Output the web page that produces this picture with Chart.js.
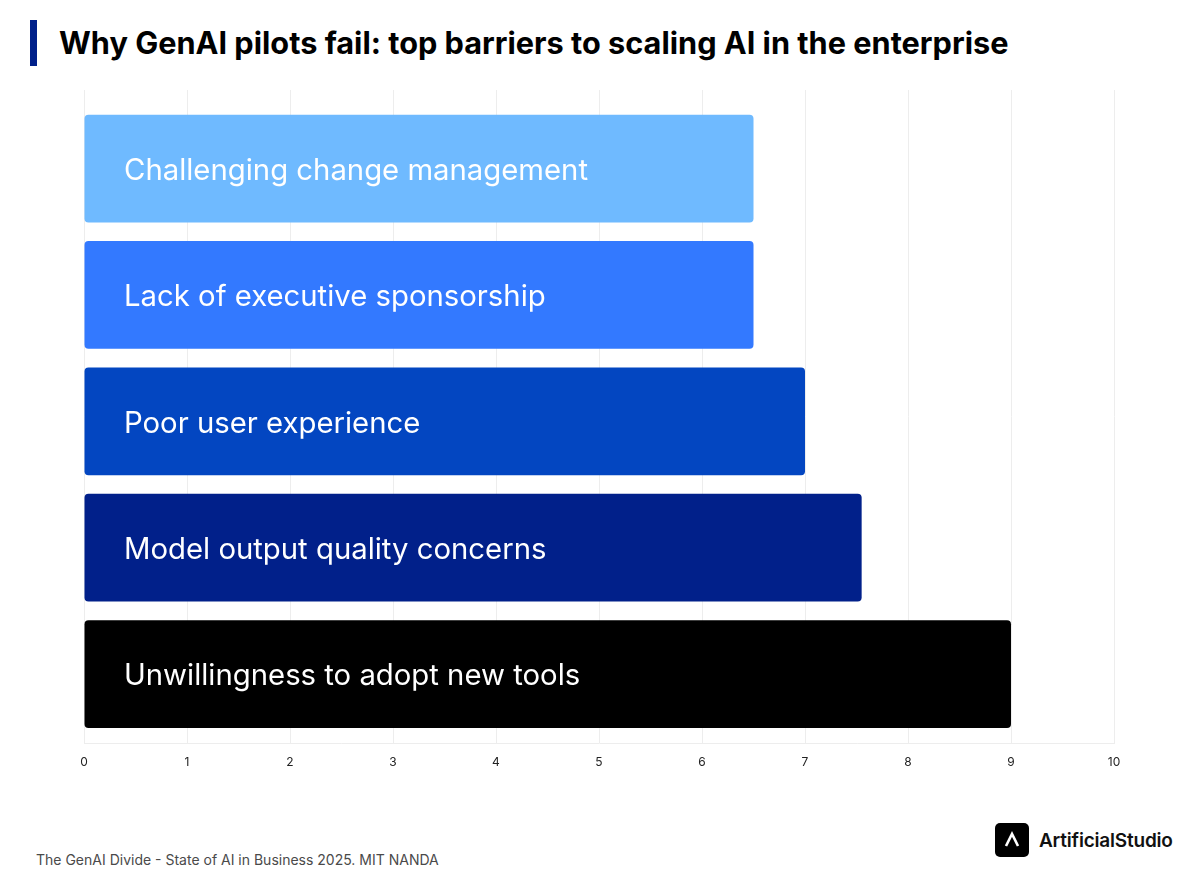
<!DOCTYPE html>
<html>
<head>
<meta charset="utf-8">
<script src="https://cdn.jsdelivr.net/npm/chart.js@4.4.1/dist/chart.umd.min.js"></script>
<style>
  html, body { margin: 0; padding: 0; background: #fff; }
  body { width: 1198px; height: 885px; position: relative; overflow: hidden; font-family: Inter, "Noto Sans", sans-serif; }
  #accent { position: absolute; left: 30px; top: 20px; width: 7px; height: 46px; background: #00208A; }
  #title { position: absolute; left: 59px; top: 27px; font-size: 30.7px; line-height: 31px; font-weight: 700; color: #000; white-space: nowrap; }
  #wrap { position: absolute; left: 0; top: 0; width: 1198px; height: 800px; }
  #source { position: absolute; left: 36px; top: 851px; font-size: 14px; line-height: 18px; color: #4a4a4a; white-space: nowrap; }
  #logo { position: absolute; left: 995px; top: 823px; height: 34px; display: flex; align-items: center; }
  #logo .box { width: 34px; height: 34px; border-radius: 5px; background: #000; display: flex; align-items: center; justify-content: center; }
  #logo .name { margin-left: 10px; font-size: 19px; font-weight: 600; color: #111; letter-spacing: -0.2px; }
</style>
</head>
<body>
<div id="accent"></div>
<div id="title">Why GenAI pilots fail: top barriers to scaling AI in the enterprise</div>
<div id="wrap"><canvas id="c"></canvas></div>
<div id="source">The GenAI Divide - State of AI in Business 2025. MIT NANDA</div>
<div id="logo"><div class="box"><svg width="18" height="18" viewBox="0 0 18 18"><path d="M3 15 L9 3 L15 15" fill="none" stroke="#fff" stroke-width="2.6" stroke-linejoin="miter"/></svg></div><div class="name">ArtificialStudio</div></div>
<script>
const categories = [
  "Challenging change management",
  "Lack of executive sponsorship",
  "Poor user experience",
  "Model output quality concerns",
  "Unwillingness to adopt new tools"
];
const values = [6.5, 6.5, 7, 7.55, 9];
const barColors = ["#6FBAFF", "#3379FF", "#0346C1", "#01208A", "#000000"];
const xTicks = [0, 1, 2, 3, 4, 5, 6, 7, 8, 9, 10];

const insideLabels = {
  id: 'insideLabels',
  afterDatasetsDraw(chart) {
    const ctx = chart.ctx;
    const meta = chart.getDatasetMeta(0);
    const x0 = chart.scales.x.getPixelForValue(0);
    ctx.save();
    ctx.font = '400 29.3px Inter, "Noto Sans", sans-serif';
    ctx.fillStyle = '#ffffff';
    ctx.textBaseline = 'middle';
    ctx.textAlign = 'left';
    meta.data.forEach((bar, i) => {
      ctx.fillText(categories[i], x0 + 40, bar.y + 2.5);
    });
    ctx.restore();
  }
};

new Chart(document.getElementById('c'), {
  type: 'bar',
  data: {
    datasets: [{
      data: values.map((v, i) => ({ x: v, y: i })),
      backgroundColor: barColors,
      borderRadius: 4,
      borderSkipped: false,
      barPercentage: 0.853,
      categoryPercentage: 1
    }]
  },
  options: {
    indexAxis: 'y',
    responsive: true,
    maintainAspectRatio: false,
    animation: false,
    layout: { padding: { left: 84, right: 84, top: 90, bottom: 18 } },
    plugins: { legend: { display: false }, tooltip: { enabled: false }, title: { display: false } },
    scales: {
      x: {
        type: 'linear',
        min: 0,
        max: 10,
        afterBuildTicks: s => { s.ticks = xTicks.map(v => ({ value: v })); },
        grid: { color: '#ededed', lineWidth: 1, drawTicks: false },
        border: { color: '#ededed', width: 1 },
        ticks: { padding: 12, color: '#222', font: { family: 'Inter', size: 12 } }
      },
      y: {
        type: 'linear',
        reverse: true,
        offset: false,
        min: -0.622,
        max: 4.55,
        display: false,
        grid: { offset: false },
        ticks: { stepSize: 1 },
        afterBuildTicks: s => { s.ticks = categories.map((c, i) => ({ value: i })); }
      }
    }
  },
  plugins: [insideLabels]
});
</script>
</body>
</html>
